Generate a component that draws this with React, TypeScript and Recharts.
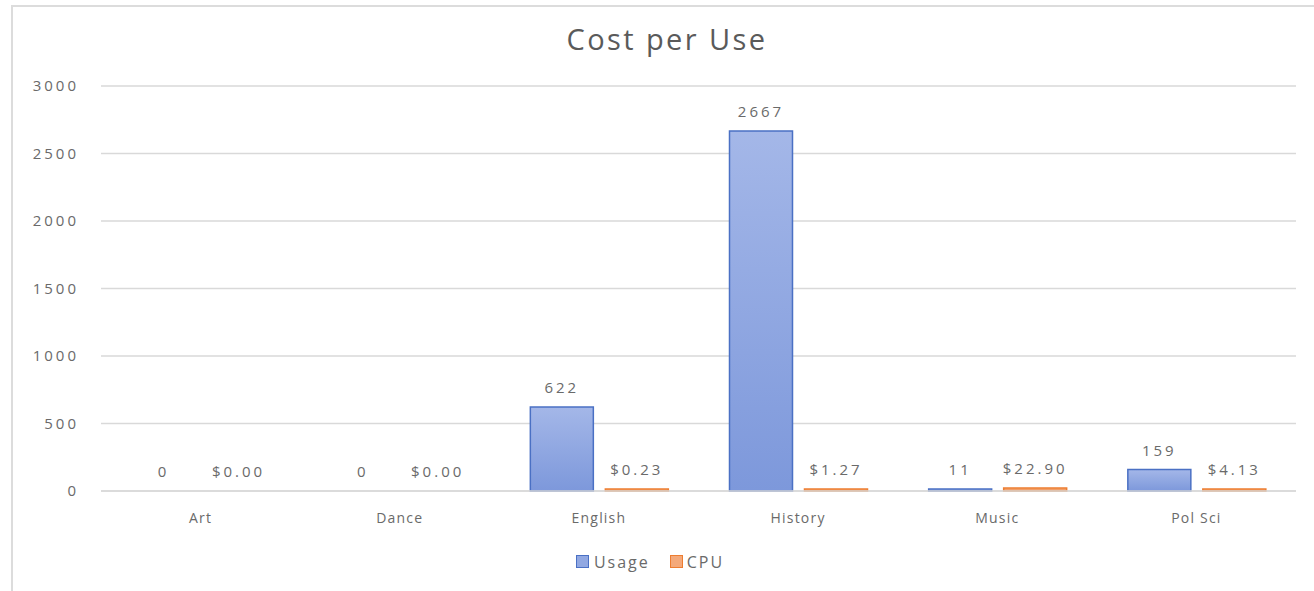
import React from "react";
import { BarChart, Bar, XAxis, YAxis, CartesianGrid, Legend, LabelList, Cell } from "recharts";

const categories = ["Art", "Dance", "English", "History", "Music", "Pol Sci"];
const usageValues = [0, 0, 622, 2667, 11, 159];
const cpuValues = [0, 0, 0.23, 1.27, 22.9, 4.13];
const yTicks = [0, 500, 1000, 1500, 2000, 2500, 3000];

const data = categories.map((c, i) => ({ name: c, Usage: usageValues[i], CPU: cpuValues[i] }));

const FONT = "'Open Sans', sans-serif";
const TXT = "#6a6a6a";

const LegendContent = () => (
  <div style={{ height: 21, display: "flex", justifyContent: "center", alignItems: "center", fontFamily: FONT, fontSize: 16, color: TXT, letterSpacing: 2, paddingLeft: 4 }}>
    <span style={{ display: "inline-block", width: 11, height: 11, background: "#91a8e2", border: "1px solid #4a70c4", marginRight: 5 }} />
    <span style={{ marginRight: 20 }}>Usage</span>
    <span style={{ display: "inline-block", width: 11, height: 11, background: "#f4a97a", border: "1px solid #ed7d31", marginRight: 4 }} />
    <span>CPU</span>
  </div>
);

const minSize = (v: any) => (Number(v) > 0 ? 2 : 0.01);

export default function App() {
  return (
    <div style={{ position: "absolute", left: 0, top: 0, width: 1314, height: 591, background: "#fff", overflow: "hidden" }}>
      <div style={{ position: "absolute", left: 11, top: 5, width: 1320, height: 600, borderLeft: "2px solid #dcdcdc", borderTop: "2px solid #dcdcdc" }} />
      <div style={{ position: "absolute", left: 0, top: 19, width: 1334, textAlign: "center", fontFamily: FONT, fontSize: 29, color: "#5a5a5a", letterSpacing: 2.4 }}>
        Cost per Use
      </div>
      <div style={{ position: "absolute", left: 0, top: 0 }}>
        <BarChart width={1314} height={591} data={data} margin={{ top: 86, right: 18, left: 0, bottom: 19 }} barCategoryGap={31} barGap={12}>
          <defs>
            <linearGradient id="usageGrad" x1="0" y1="0" x2="0" y2="1">
              <stop offset="0%" stopColor="#a4b7e8" />
              <stop offset="100%" stopColor="#7d98db" />
            </linearGradient>
            <linearGradient id="cpuGrad" x1="0" y1="0" x2="0" y2="1">
              <stop offset="0%" stopColor="#f6b48a" />
              <stop offset="100%" stopColor="#ee8a48" />
            </linearGradient>
          </defs>
          <CartesianGrid vertical={false} stroke="#d9d9d9" strokeWidth={1.5} />
          <XAxis dataKey="name" height={60} axisLine={{ stroke: "#d9d9d9", strokeWidth: 1.5 }} tickLine={false} tickSize={0} tickMargin={22}
            tick={{ fill: TXT, fontSize: 14, fontFamily: FONT, letterSpacing: 1.2 }} />
          <YAxis width={101} domain={[0, 3000]} ticks={yTicks} axisLine={false} tickLine={false} tickSize={0} tickMargin={22}
            tick={{ fill: TXT, fontSize: 15, fontFamily: FONT, letterSpacing: 3 }} />
          <Legend verticalAlign="bottom" height={21} content={<LegendContent />} />
          <Bar dataKey="Usage" fill="url(#usageGrad)" stroke="#4a70c4" strokeWidth={1.5} minPointSize={minSize} isAnimationActive={false}>
            {usageValues.map((v, i) => (
              <Cell key={i} fill={v > 0 ? "url(#usageGrad)" : "none"} stroke={v > 0 ? "#4a70c4" : "none"} />
            ))}
            <LabelList dataKey="Usage" position="top" offset={14} fill={TXT} fontSize={15} fontFamily={FONT} letterSpacing={3} />
          </Bar>
          <Bar dataKey="CPU" fill="url(#cpuGrad)" stroke="#ed7d31" strokeWidth={1.5} minPointSize={minSize} isAnimationActive={false}>
            {cpuValues.map((v, i) => (
              <Cell key={i} fill={v > 0 ? "url(#cpuGrad)" : "none"} stroke={v > 0 ? "#ed7d31" : "none"} />
            ))}
            <LabelList dataKey="CPU" position="top" offset={14} fill={TXT} fontSize={15} fontFamily={FONT} letterSpacing={3}
              formatter={(v: any) => "$" + Number(v).toFixed(2)} />
          </Bar>
        </BarChart>
      </div>
    </div>
  );
}
